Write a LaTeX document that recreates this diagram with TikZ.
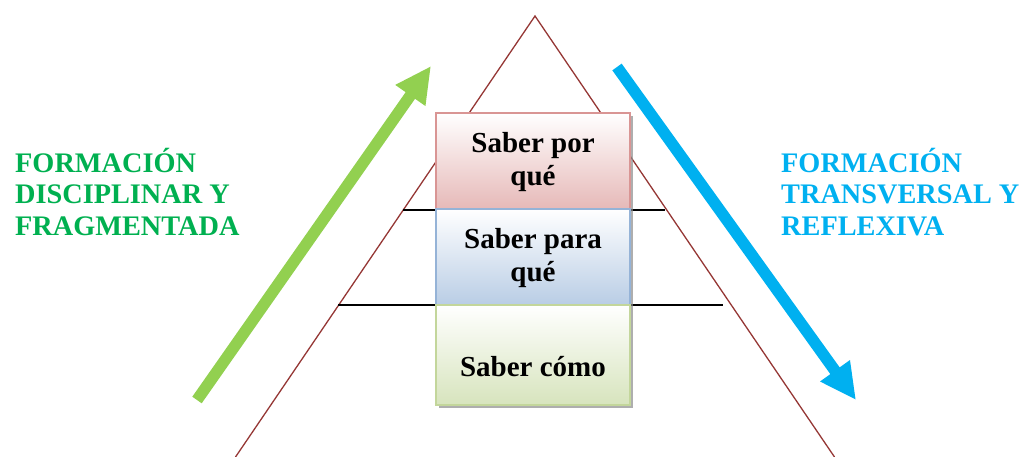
\documentclass[tikz,border=0pt]{standalone}
\usepackage{fontspec}
\setmainfont{Liberation Serif}
\usetikzlibrary{arrows.meta,shadows}
\definecolor{tricol}{HTML}{953735}
\definecolor{greenarrow}{HTML}{92D050}
\definecolor{greentext}{HTML}{00B050}
\definecolor{bluec}{HTML}{00B0F0}
\definecolor{redborder}{HTML}{D99594}
\definecolor{redfill}{HTML}{E6B9B8}
\definecolor{blueborder}{HTML}{95B3D7}
\definecolor{bluefill}{HTML}{B9CDE5}
\definecolor{greenborder}{HTML}{C3D69B}
\definecolor{greenfill}{HTML}{D7E4BD}
\tikzset{
  tri/.style={draw=tricol, line width=1.3pt},
  level/.style={draw=black, line width=1.4pt},
  boxbase/.style={minimum width=194pt, minimum height=96pt, inner sep=0pt, line width=2pt,
    drop shadow={shadow xshift=3pt, shadow yshift=-3pt, fill=black!45, opacity=0.7}},
  boxtext/.style={font=\bfseries\fontsize{29}{32.5}\selectfont, align=center, inner sep=0pt},
  sidetext/.style={font=\bfseries\fontsize{28.3}{31.5}\selectfont, align=left, inner sep=0pt},
  bigarrow/.style={line width=11.5pt, -{Triangle[length=36pt,width=34pt]}},
}
\begin{document}
\begin{tikzpicture}[x=1pt,y=-1pt]
\useasboundingbox (0,0) rectangle (1029,457);
% triangle
\coordinate (apex) at (535,16);
\coordinate (bl) at (235.5,457);
\coordinate (br) at (834.5,457);
\draw[tri] (bl) -- (apex) -- (br);
% level lines
\coordinate (l1a) at (403,210);
\coordinate (l1b) at (665,210);
\coordinate (l2a) at (338,305);
\coordinate (l2b) at (723,305);
\draw[level] (l1a) -- (l1b);
\draw[level] (l2a) -- (l2b);
% boxes
\node[boxbase, draw=redborder, top color=white, bottom color=redfill, minimum height=96pt] (b1) at (533,161) {};
\node[boxbase, draw=blueborder, top color=white, bottom color=bluefill, minimum height=96pt] (b2) at (533,257) {};
\node[boxbase, draw=greenborder, top color=white, bottom color=greenfill, minimum height=100pt] (b3) at (533,355) {};
\node[boxtext] (t1) at (533,162) {Saber por\\qué};
\node[boxtext] (t2) at (533,258) {Saber para\\qué};
\node[boxtext, anchor=base] (t3) at (533,377) {Saber cómo};
% arrows
\coordinate (ga) at (197,400);
\coordinate (gb) at (431,66);
\draw[bigarrow, greenarrow] (ga) -- (gb);
\coordinate (ba) at (617,67);
\coordinate (bb) at (856,400);
\draw[bigarrow, bluec] (ba) -- (bb);
% side texts
\node[sidetext, text=greentext, anchor=north west] (lt) at (15,148) {FORMACIÓN\\DISCIPLINAR Y\\FRAGMENTADA};
\node[sidetext, text=bluec, anchor=north west] (rt) at (781,148) {FORMACIÓN\\TRANSVERSAL Y\\REFLEXIVA};
\end{tikzpicture}
\end{document}
